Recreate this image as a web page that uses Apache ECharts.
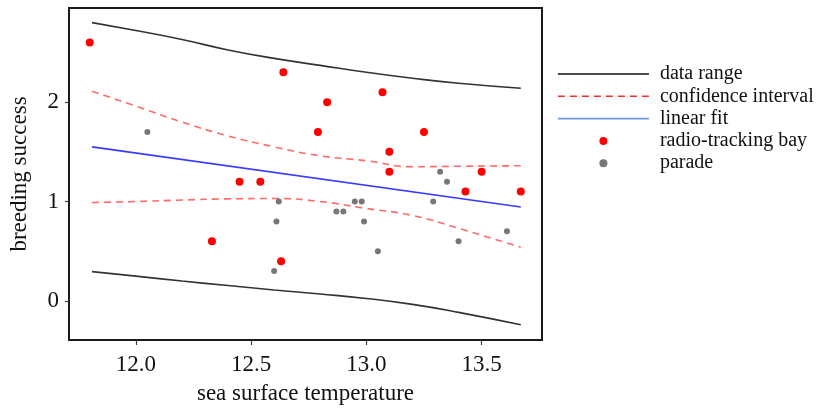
<!DOCTYPE html>
<html>
<head>
<meta charset="utf-8">
<script src="https://cdn.jsdelivr.net/npm/echarts@6/dist/echarts.min.js"></script>
<style>
html,body{margin:0;padding:0;background:#fff;}
#chart{width:826px;height:410px;}
</style>
</head>
<body>
<div id="chart"></div>
<script>
// ---- data ----
const curveX     = [11.81, 12.0, 12.2, 12.4, 12.6, 12.8, 13.0, 13.2, 13.4, 13.67];
const rangeUpper = [2.80, 2.72, 2.63, 2.525, 2.44, 2.37, 2.30, 2.24, 2.19, 2.14];
const rangeLower = [0.295, 0.25, 0.20, 0.155, 0.11, 0.07, 0.025, -0.035, -0.115, -0.24];
const ciUpper    = [2.11, 1.96, 1.80, 1.66, 1.55, 1.46, 1.41, 1.35, 1.355, 1.36];
const ciLower    = [0.99, 1.00, 1.015, 1.027, 1.03, 1.00, 0.93, 0.86, 0.73, 0.54];
const fitX = [11.81, 13.67];
const fitY = [1.55, 0.945];
const bayX = [11.80, 12.64, 12.83, 12.79, 13.07, 13.25, 13.10, 13.10, 13.50, 13.43, 13.67, 12.45, 12.54, 12.33, 12.63];
const bayY = [2.6, 2.3, 2.0, 1.7, 2.1, 1.7, 1.5, 1.3, 1.3, 1.1, 1.1, 1.2, 1.2, 0.6, 0.4];
const paradeX = [12.05, 12.62, 12.61, 12.60, 12.87, 12.90, 12.95, 12.98, 12.99, 13.05, 13.32, 13.35, 13.29, 13.40, 13.61];
const paradeY = [1.7, 1.0, 0.8, 0.3, 0.9, 0.9, 1.0, 1.0, 0.8, 0.5, 1.3, 1.2, 1.0, 0.6, 0.7];
const xTicks = [12.0, 12.5, 13.0, 13.5];
const yTicks = [0, 1, 2];
const legendNames = ['data range', 'confidence interval', 'linear fit', 'radio-tracking bay', 'parade'];

const zip = (xs, ys) => xs.map((x, i) => [x, ys[i]]);
const FONT = 'Liberation Serif';

const chart = echarts.init(document.getElementById('chart'), null, {renderer: 'canvas'});
const lineBase = {type: 'line', symbol: 'none', smooth: true, z: 2, animation: false};

chart.setOption({
  backgroundColor: '#fff',
  animation: false,
  grid: {left: 68, top: 8, width: 474, height: 334, show: true, borderColor: '#1a1a1a', borderWidth: 2, backgroundColor: 'transparent'},
  xAxis: {
    type: 'value', min: 11.71, max: 13.762, position: 'bottom', offset: 0,
    name: 'sea surface temperature', nameLocation: 'middle', nameGap: 42,
    nameTextStyle: {fontFamily: FONT, fontSize: 23, color: '#111'},
    axisLine: {show: true, onZero: false, lineStyle: {color: '#1a1a1a', width: 2}},
    splitLine: {show: false},
    axisTick: {show: true, inside: false, length: 5, lineStyle: {color: '#444', width: 1.2}, customValues: xTicks},
    axisLabel: {customValues: xTicks, margin: 13, fontFamily: FONT, fontSize: 23, color: '#111', formatter: v => v.toFixed(1)}
  },
  yAxis: {
    type: 'value', min: -0.393, max: 2.947, position: 'left', offset: 0,
    name: 'breeding success', nameLocation: 'middle', nameGap: 38,
    nameTextStyle: {fontFamily: FONT, fontSize: 23, color: '#111'},
    axisLine: {show: true, onZero: false, lineStyle: {color: '#1a1a1a', width: 2}},
    splitLine: {show: false},
    axisTick: {show: true, inside: false, length: 4, lineStyle: {color: '#444', width: 1.2}, customValues: yTicks},
    axisLabel: {customValues: yTicks, margin: 10, fontFamily: FONT, fontSize: 23, color: '#111', formatter: v => String(Math.round(v))}
  },
  legend: {
    orient: 'vertical', left: 557, top: 64, padding: 0,
    itemWidth: 91, itemHeight: 8, itemGap: 2.3,
    textStyle: {fontFamily: FONT, fontSize: 20, color: '#111', padding: [0, 0, 0, 6], lineHeight: 20},
    selectedMode: false,
    data: [
      {name: legendNames[0], itemStyle: {opacity: 0}, lineStyle: {color: '#111', width: 1.5, type: 'solid'}},
      {name: legendNames[1], itemStyle: {opacity: 0}, lineStyle: {color: '#ff2a2a', width: 1.5, type: [7, 5]}},
      {name: legendNames[2], itemStyle: {opacity: 0}, lineStyle: {color: '#6c98dc', width: 1.8, type: 'solid'}},
      {name: legendNames[3], itemStyle: {color: '#ff0000', opacity: 1}},
      {name: legendNames[4], itemStyle: {color: '#777777', opacity: 1}}
    ]
  },
  series: [
    Object.assign({}, lineBase, {name: legendNames[0], data: zip(curveX, rangeUpper), color: '#333', lineStyle: {color: '#333', width: 1.6}}),
    Object.assign({}, lineBase, {name: legendNames[0], data: zip(curveX, rangeLower), color: '#333', lineStyle: {color: '#333', width: 1.6}}),
    Object.assign({}, lineBase, {name: legendNames[1], data: zip(curveX, ciUpper), color: '#ff6a6a', lineStyle: {color: '#ff6a6a', width: 1.6, type: [7, 5]}}),
    Object.assign({}, lineBase, {name: legendNames[1], data: zip(curveX, ciLower), color: '#ff6a6a', lineStyle: {color: '#ff6a6a', width: 1.6, type: [7, 5]}}),
    Object.assign({}, lineBase, {name: legendNames[2], smooth: false, data: zip(fitX, fitY), color: '#3a3aff', lineStyle: {color: '#3a3aff', width: 1.6}}),
    {type: 'scatter', name: legendNames[3], data: zip(bayX, bayY), symbol: 'circle', symbolSize: 8, itemStyle: {color: '#ff0000', opacity: 1}, z: 4, animation: false},
    {type: 'scatter', name: legendNames[4], data: zip(paradeX, paradeY), symbol: 'circle', symbolSize: 6, itemStyle: {color: '#777777', opacity: 1}, z: 3, animation: false}
  ]
});
</script>
</body>
</html>
